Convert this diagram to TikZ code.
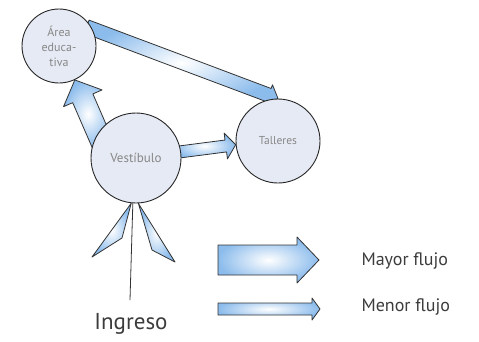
\documentclass[tikz,border=0pt]{standalone}
\usepackage{fontspec}
\setmainfont{PT Sans}
\usetikzlibrary{calc,backgrounds}

\definecolor{salafill}{RGB}{230,234,244}
\definecolor{flujoazul}{RGB}{140,188,236}
\definecolor{textogris}{RGB}{135,135,135}
\definecolor{rotulo}{RGB}{60,60,60}

\tikzset{
  sala/.style={circle, draw=black!85, line width=0.9pt, fill=salafill,
    text=textogris, align=center, inner sep=0pt},
  flujo/.style={draw=black!80, line width=0.8pt, line join=round,
    inner color=white, outer color=flujoazul},
  leyenda/.style={anchor=west, text=rotulo, font=\fontsize{18}{20}\selectfont}
}

% block arrow: from, to, half shaft, half head, head length
\newcommand{\flecha}[5]{%
  \draw[flujo] ($(#1)!#3!90:(#2)$)
    -- ($(#2)!#5!(#1)!#3!90:(#2)$)
    -- ($(#2)!#5!(#1)!#4!90:(#2)$)
    -- (#2)
    -- ($(#2)!#5!(#1)!#4!-90:(#2)$)
    -- ($(#2)!#5!(#1)!#3!-90:(#2)$)
    -- ($(#1)!#3!-90:(#2)$) -- cycle;}

\begin{document}
\begin{tikzpicture}[x=1pt, y=1pt]
    \useasboundingbox (0,0) rectangle (479,-341);
    % Rooms
    \node[sala, minimum size=74pt, font=\fontsize{12}{15}\selectfont] (area) at (59,-46) {Área\\educa-\\tiva};
    \node[sala, minimum size=90pt, font=\fontsize{13}{15}\selectfont] (ves) at (136,-158) {Vestíbulo};
    \node[sala, minimum size=84pt, font=\fontsize{11.5}{13}\selectfont] (tall) at (278,-141) {Talleres};

    % Entrance
    \node[text=rotulo, font=\fontsize{23}{25}\selectfont] (ing) at (131,-324) {Ingreso};
    \coordinate (entrada) at (130,-300);
    \draw[line width=0.8pt, black!80] (ves.-94) -- (entrada);

    % Legend
    \coordinate (may) at (218,-260);
    \coordinate (mayT) at (319,-260);
    \coordinate (men) at (218,-309);
    \coordinate (menT) at (320,-309);
    \node[leyenda] (mayor) at (358,-261) {Mayor flujo};
    \node[leyenda] (menor) at (358,-307) {Menor flujo};
    \flecha{may}{mayT}{15pt}{23pt}{22pt}
    \flecha{men}{menT}{6pt}{11pt}{8pt}

    % Flows
    \begin{scope}[on background layer]
        \flecha{$(ves.center)!0.8!(ves.157)$}{area.-65}{11pt}{21pt}{20pt}
        \flecha{$(ves.center)!0.85!(ves.8)$}{tall.185}{6pt}{13pt}{10pt}
        \flecha{$(area.center)!0.9!(area.35)$}{tall.90}{7pt}{11pt}{10pt}
        \draw[flujo] (ves.-96) -- (92,-257) -- (122,-238) -- cycle;
        \draw[flujo] (ves.-87) -- (175,-262) -- (152,-250) -- cycle;
    \end{scope}
\end{tikzpicture}
\end{document}
